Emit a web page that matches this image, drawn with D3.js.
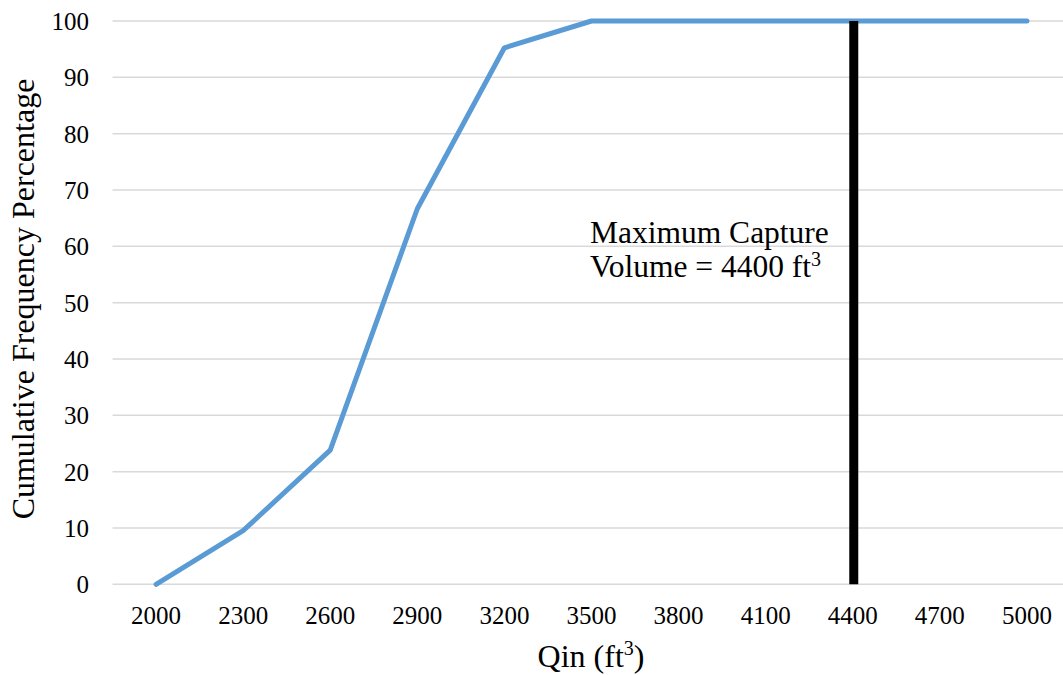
<!DOCTYPE html>
<html>
<head>
<meta charset="utf-8">
<script src="https://cdn.jsdelivr.net/npm/d3@7"></script>
<style>
  html, body { margin: 0; padding: 0; background: #fff; }
  svg { display: block; }
  svg text { font-family: "Liberation Serif", "Times New Roman", serif !important; fill: #000; }
</style>
</head>
<body>
<svg id="chart" width="1063" height="675"></svg>
<script>
// ---- data ----
const categories = ["2000","2300","2600","2900","3200","3500","3800","4100","4400","4700","5000"];
const cumulativePct = [0, 9.52, 23.81, 66.67, 95.24, 100, 100, 100, 100, 100, 100];
const yTicks = [0, 10, 20, 30, 40, 50, 60, 70, 80, 90, 100];
const captureCategory = "4400";
const captureRange = [0, 100];
const annotationLines = ["Maximum Capture", "Volume = 4400 ft"];

// ---- layout ----
const svg = d3.select("#chart");
const plotLeft = 112.5, plotRight = 1070.5, plotTop = 21, plotBottom = 584.3;

const x = d3.scaleBand().domain(categories).range([plotLeft, plotRight]);
const y = d3.scaleLinear().domain([0, 100]).range([plotBottom, plotTop]);
const cx = c => x(c) + x.bandwidth() / 2;

// gridlines
svg.append("g").selectAll("line").data(yTicks).join("line")
  .attr("x1", plotLeft).attr("x2", plotRight)
  .attr("y1", d => y(d)).attr("y2", d => y(d))
  .attr("stroke", "#d9d9d9").attr("stroke-width", 1.5);

// y tick labels
const yAxis = d3.axisLeft(y).tickValues(yTicks).tickSize(0).tickPadding(0);
const gy = svg.append("g").attr("transform", `translate(89,0)`).call(yAxis);
gy.select(".domain").remove();
gy.attr("font-family", "Liberation Serif").attr("font-size", 25);
gy.selectAll("text").style("font-size", "25px").attr("fill", "#000").attr("dy", "0.34em");

// x tick labels
const xAxis = d3.axisBottom(x).tickSize(0).tickPadding(0);
const gx = svg.append("g").attr("transform", `translate(0,606)`).call(xAxis);
gx.select(".domain").remove();
gx.attr("font-family", "Liberation Serif").attr("font-size", 25);
gx.selectAll("text").style("font-size", "25px").attr("fill", "#000").attr("dy", "0.71em");

// series line
const line = d3.line().x((d, i) => cx(categories[i])).y(d => y(d));
svg.append("path").datum(cumulativePct)
  .attr("d", line).attr("fill", "none")
  .attr("stroke", "#5b9bd5").attr("stroke-width", 5)
  .attr("stroke-linejoin", "round").attr("stroke-linecap", "round");

// maximum capture line
svg.append("line")
  .attr("x1", cx(captureCategory) + 1).attr("x2", cx(captureCategory) + 1)
  .attr("y1", y(captureRange[1])).attr("y2", y(captureRange[0]))
  .attr("stroke", "#000").attr("stroke-width", 9);

// annotation
const ann = svg.append("text").attr("x", 590).attr("y", 243).style("font-size", "31.5px");
ann.append("tspan").attr("x", 590).attr("y", 243).text(annotationLines[0]);
ann.append("tspan").attr("x", 590).attr("y", 277).text(annotationLines[1]);
ann.append("tspan").style("font-size", "20px").attr("dy", -11).text("3");

// axis titles
const xt = svg.append("text").attr("x", 591).attr("y", 667).attr("text-anchor", "middle").style("font-size", "32px");
xt.append("tspan").text("Qin (ft");
xt.append("tspan").style("font-size", "20px").attr("dy", -12).text("3");
xt.append("tspan").attr("dy", 12).text(")");

svg.append("text")
  .attr("transform", "translate(34,299) rotate(-90)")
  .attr("text-anchor", "middle").style("font-size", "32px")
  .text("Cumulative Frequency Percentage");
</script>
</body>
</html>
